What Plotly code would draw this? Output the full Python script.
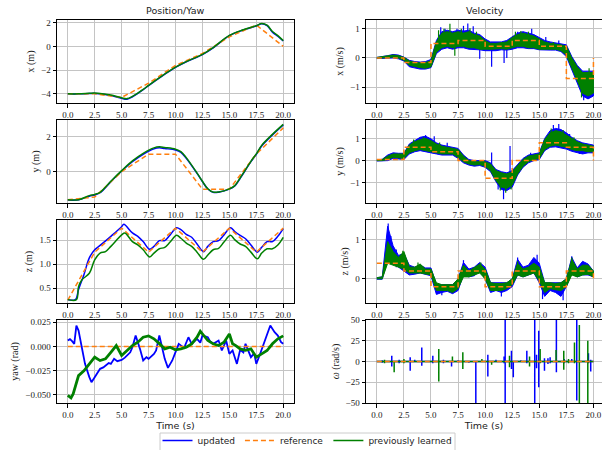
import plotly.graph_objects as go
from plotly.subplots import make_subplots

# ---------------- data ----------------
t_ref = [0, 2.5, 5, 7.5, 10, 12.5, 15, 17.5, 20]
ref_x = [-4.0, -4.0, -4.3, -3.1, -1.6, -0.6, 0.8, 1.8, 0.0]
ref_y = [-1.6, -1.45, 0.0, 1.0, 1.0, -1.0, -1.0, 1.0, 2.5]
ref_z = [0.25, 1.25, 1.75, 1.25, 1.75, 1.25, 1.75, 1.25, 1.75]
ref_vx = [0.0, -0.15, 0.5, 0.6, 0.4, 0.6, 0.4, -0.7, 0.0]
ref_vy = [0.05, 0.6, 0.4, 0.0, -0.8, 0.0, 0.8, 0.6, 0.0]
ref_vz = [0.4, 0.2, -0.2, 0.2, -0.2, 0.2, -0.2, 0.2, 0.0]
ref_yaw = [0.0] * 9
ref_w = [0.0] * 9

# position x
t_px = [0, 1, 2, 2.5, 3, 4, 5, 5.5, 6, 7, 7.5, 8.75, 10, 11, 12.5, 13.5, 15, 16.3, 17.5, 18, 18.5, 19, 19.5, 20]
upd_x = [-4.0, -4.0, -3.97, -3.96, -3.99, -4.15, -4.38, -4.45, -4.25, -3.65, -3.3, -2.5, -1.77, -1.3, -0.69, -0.12, 0.9, 1.38, 1.72, 1.9, 1.75, 1.2, 0.85, 0.45]
prev_x = [-4.0, -4.0, -3.95, -3.93, -3.96, -4.1, -4.33, -4.4, -4.21, -3.63, -3.28, -2.48, -1.75, -1.28, -0.68, -0.1, 0.92, 1.4, 1.74, 1.93, 1.78, 1.25, 0.9, 0.48]

# position y
t_py = [0, 1, 2, 2.5, 3, 4, 5, 6, 7, 8, 8.5, 9, 10, 10.5, 11, 12, 12.5, 13, 13.5, 14, 15, 15.5, 16, 17, 17.5, 18, 19, 20]
upd_y = [-1.62, -1.61, -1.4, -1.33, -1.2, -0.57, 0.04, 0.57, 0.99, 1.3, 1.36, 1.32, 1.24, 1.1, 0.76, -0.1, -0.57, -0.99, -1.18, -1.17, -1.0, -0.82, -0.38, 0.57, 0.99, 1.47, 2.1, 2.67]
prev_y = [-1.6, -1.6, -1.37, -1.3, -1.18, -0.55, 0.06, 0.62, 1.05, 1.36, 1.42, 1.38, 1.28, 1.14, 0.8, -0.08, -0.55, -0.98, -1.17, -1.16, -0.98, -0.8, -0.36, 0.59, 1.02, 1.5, 2.13, 2.7]

# position z
t_pz_upd = [0, 0.7, 1, 1.5, 2, 2.5, 3, 4, 5, 5.2, 6, 6.5, 7, 7.6, 8, 8.5, 9, 9.5, 10.1, 10.5,
            11, 11.5, 12, 12.6, 13, 13.5, 14, 14.5, 15.1, 15.5, 16, 16.5, 17, 17.6, 18, 18.5, 19, 19.5, 20]
upd_z = [0.26, 0.26, 0.47, 0.78, 1.13, 1.3, 1.39, 1.58, 1.78, 1.83, 1.65, 1.58, 1.47, 1.31, 1.37, 1.49, 1.49, 1.61, 1.76, 1.72,
         1.62, 1.56, 1.42, 1.26, 1.37, 1.47, 1.49, 1.61, 1.76, 1.68, 1.6, 1.53, 1.4, 1.25, 1.35, 1.47, 1.47, 1.58, 1.74]
t_pz_prev = [0, 0.8, 1, 1.3, 2, 2.5, 3, 3.5, 4, 5, 5.3, 6, 6.5, 7, 7.6, 8, 8.5, 9, 9.5, 10.1,
             10.5, 11, 11.5, 12, 12.6, 13, 13.5, 14, 14.5, 15.1, 15.5, 16, 16.5, 17, 17.6, 18, 18.5, 19, 19.5, 20]
prev_z = [0.26, 0.26, 0.53, 0.67, 0.81, 1.09, 1.23, 1.26, 1.37, 1.61, 1.65, 1.47, 1.4, 1.3, 1.15, 1.23, 1.32, 1.35, 1.46, 1.6,
          1.54, 1.44, 1.37, 1.25, 1.1, 1.19, 1.3, 1.33, 1.46, 1.6, 1.51, 1.42, 1.37, 1.25, 1.11, 1.23, 1.32, 1.32, 1.4, 1.56]

# yaw
t_yaw_upd = [0, 0.2, 0.4, 0.6, 0.8, 1.0, 1.3, 1.6, 2.0, 2.2, 2.5, 2.8, 3.0, 3.3, 3.5, 3.8, 4.0, 4.3, 4.6, 5.0,
             5.3, 5.5, 5.8, 6.0, 6.3, 6.7, 7.0, 7.3, 7.5, 8.0, 8.2, 8.5, 8.8, 9.0, 9.3, 9.7, 10.0, 10.3, 10.8, 11.2,
             11.5, 11.8, 12.0, 12.3, 12.5, 13.0, 13.2, 13.5, 14.0, 14.3, 14.7, 15.0, 15.3, 15.5, 15.7, 16.0, 16.3, 16.5, 17.0, 17.3,
             17.5, 17.8, 18.2, 18.5, 18.8, 19.2, 19.5, 19.8, 20.0]
upd_yaw = [0.0062, 0.0076, 0.0055, 0.0028, 0.0217, 0.0165, -0.0007, -0.0179, -0.0316, -0.0368, -0.0316, -0.0262, -0.023, -0.0215, -0.0196, -0.017, -0.0179, -0.0127, -0.0151, -0.0138,
           -0.0115, -0.0093, -0.006, -0.0007, 0.0114, -0.0024, -0.0144, -0.011, -0.0127, -0.0076, -0.004, 0.0114, -0.004, -0.0127, -0.022, -0.0144, -0.0058, 0.0028, -0.0014, 0.0096,
           0.0028, 0.006, 0.0079, 0.004, 0.0114, 0.0096, 0.0055, 0.0028, 0.0062, -0.0041, 0.0062, -0.0076, -0.004, -0.011, -0.0179, -0.0034, -0.006, 0.0028, -0.011, -0.007,
           -0.0179, -0.0093, 0.0028, 0.0131, 0.0217, 0.0148, 0.0114, 0.0045, 0.0028]
t_yaw_prev = [0, 0.3, 0.5, 0.8, 1.0, 1.5, 2, 2.5, 3, 3.5, 4, 4.5, 5, 5.5, 6, 6.5, 7, 7.5, 8, 8.5,
              9, 9.5, 10, 10.5, 11, 11.5, 12, 12.3, 12.8, 13, 13.5, 14, 14.5, 15, 15.3, 15.6, 16, 16.5, 17, 17.5,
              18, 18.5, 19, 19.5, 20]
prev_yaw = [-0.0505, -0.053, -0.049, -0.0385, -0.03, -0.025, -0.018, -0.011, -0.0145, -0.0127, -0.006, 0.001, -0.0093, -0.004, 0.001, 0.0045, 0.0096, 0.011, 0.008, 0.003,
            -0.0024, -0.0007, -0.0034, -0.0024, -0.0007, 0.0028, 0.0096, 0.0158, 0.0096, 0.0062, 0.0028, 0.001, 0.0045, 0.013, 0.0028, 0.001, -0.0024, -0.004, -0.0024, -0.011,
            -0.0076, -0.0041, 0.0028, 0.008, 0.011]

# velocity envelopes (measured band, lower / upper), sampled every 0.5 s
t_vel = [0, 0.5, 1, 1.5, 2, 2.5, 3, 3.5, 4, 4.5, 5, 5.5, 6, 6.5, 7, 7.5, 8, 8.5, 9, 9.5,
         10, 10.5, 11, 11.5, 12, 12.5, 13, 13.5, 14, 14.5, 15, 15.5, 16, 16.5, 17, 17.5, 18, 18.5, 19, 19.5, 20]

upd_vx_lo = [-0.02, -0.01, 0.0, 0.0, -0.03, -0.1, -0.3, -0.35, -0.38, -0.38, -0.33, 0.15, 0.3, 0.35, 0.3, 0.35, 0.35, 0.3, 0.3, 0.28,
             0.25, 0.25, 0.25, 0.28, 0.27, 0.3, 0.35, 0.35, 0.32, 0.32, 0.28, 0.28, 0.27, 0.27, 0.22, 0.05, -0.4, -0.85, -1.3, -1.4, -1.3]
upd_vx_hi = [0.02, 0.04, 0.08, 0.12, 0.1, 0.03, -0.08, -0.12, -0.14, -0.12, -0.05, 0.6, 0.9, 0.95, 0.9, 0.95, 0.92, 0.95, 0.85, 0.8,
             0.65, 0.55, 0.55, 0.55, 0.6, 0.72, 0.85, 0.9, 0.85, 0.8, 0.7, 0.6, 0.55, 0.52, 0.5, 0.45, 0.05, -0.25, -0.45, -0.45, -0.45]
prev_vx_lo = [-0.01, 0.0, 0.02, 0.03, 0.0, -0.08, -0.25, -0.3, -0.33, -0.35, -0.3, 0.2, 0.35, 0.4, 0.35, 0.4, 0.4, 0.35, 0.35, 0.3,
              0.3, 0.3, 0.3, 0.32, 0.3, 0.35, 0.4, 0.4, 0.35, 0.35, 0.3, 0.3, 0.3, 0.3, 0.25, 0.1, -0.35, -0.75, -1.2, -1.3, -1.2]
prev_vx_hi = [0.02, 0.04, 0.07, 0.1, 0.08, 0.02, -0.1, -0.15, -0.17, -0.15, -0.1, 0.55, 0.85, 0.9, 0.85, 0.9, 0.85, 0.9, 0.8, 0.75,
              0.6, 0.5, 0.5, 0.52, 0.55, 0.7, 0.8, 0.85, 0.8, 0.75, 0.65, 0.55, 0.5, 0.48, 0.45, 0.4, 0.0, -0.3, -0.5, -0.5, -0.5]

upd_vy_lo = [-0.02, -0.02, 0.0, 0.1, 0.08, 0.05, 0.3, 0.4, 0.45, 0.4, 0.35, 0.3, 0.25, 0.25, 0.25, 0.1, -0.1, -0.2, -0.25, -0.22,
             -0.3, -0.5, -0.95, -1.3, -1.35, -1.2, -0.65, -0.3, -0.1, 0.0, 0.05, 0.45, 0.6, 0.62, 0.58, 0.52, 0.42, 0.35, 0.3, 0.35, 0.35]
upd_vy_hi = [0.03, 0.06, 0.25, 0.35, 0.33, 0.33, 0.75, 0.92, 1.05, 1.1, 0.98, 0.8, 0.7, 0.65, 0.6, 0.55, 0.25, 0.05, 0.0, 0.0,
             0.0, -0.1, -0.4, -0.5, -0.55, -0.45, -0.15, 0.1, 0.25, 0.3, 0.35, 1.0, 1.35, 1.45, 1.4, 1.25, 1.05, 0.9, 0.8, 0.75, 0.7]
prev_vy_lo = [0.0, 0.0, 0.05, 0.15, 0.12, 0.1, 0.35, 0.45, 0.5, 0.45, 0.4, 0.35, 0.3, 0.3, 0.3, 0.15, -0.05, -0.15, -0.2, -0.18,
              -0.25, -0.45, -0.9, -1.2, -1.25, -1.1, -0.6, -0.25, -0.05, 0.05, 0.1, 0.5, 0.65, 0.7, 0.65, 0.6, 0.5, 0.45, 0.45, 0.4, 0.4]
prev_vy_hi = [0.03, 0.05, 0.2, 0.3, 0.3, 0.3, 0.7, 0.85, 0.95, 1.0, 0.9, 0.75, 0.65, 0.6, 0.55, 0.5, 0.2, 0.0, -0.05, -0.05,
              -0.05, -0.15, -0.45, -0.55, -0.6, -0.5, -0.2, 0.05, 0.2, 0.25, 0.3, 0.95, 1.25, 1.35, 1.3, 1.15, 1.0, 0.85, 0.75, 0.7, 0.65]

upd_vz_lo = [-0.01, -0.01, 0.5, 0.4, 0.3, 0.2, 0.1, 0.12, 0.15, 0.12, 0.08, -0.4, -0.35, -0.32, -0.38, -0.3, 0.1, 0.05, 0.08, 0.2,
             0.0, -0.35, -0.3, -0.35, -0.3, -0.2, 0.1, 0.05, 0.1, 0.15, -0.1, -0.45, -0.3, -0.35, -0.45, -0.2, 0.15, 0.05, 0.1, 0.1, 0.05]
upd_vz_hi = [0.03, 0.05, 1.35, 0.85, 0.6, 0.65, 0.35, 0.3, 0.35, 0.28, 0.28, -0.15, -0.15, -0.15, -0.15, 0.0, 0.42, 0.25, 0.3, 0.42,
             0.3, -0.1, -0.1, -0.1, -0.1, 0.0, 0.5, 0.3, 0.35, 0.55, 0.4, -0.1, -0.1, -0.1, -0.1, 0.0, 0.55, 0.28, 0.45, 0.38, 0.2]
prev_vz_lo = [0.0, 0.0, 0.4, 0.35, 0.3, 0.25, 0.15, 0.15, 0.15, 0.12, 0.1, -0.3, -0.3, -0.3, -0.35, -0.25, 0.05, 0.05, 0.1, 0.15,
              0.0, -0.3, -0.3, -0.3, -0.25, -0.15, 0.1, 0.05, 0.1, 0.15, -0.05, -0.35, -0.25, -0.28, -0.3, -0.2, 0.1, 0.05, 0.1, 0.12, 0.05]
prev_vz_hi = [0.03, 0.05, 0.95, 0.7, 0.55, 0.7, 0.3, 0.3, 0.38, 0.25, 0.25, -0.1, -0.15, -0.15, -0.15, 0.0, 0.35, 0.2, 0.3, 0.38,
              0.25, -0.1, -0.12, -0.12, -0.1, 0.0, 0.4, 0.25, 0.3, 0.4, 0.3, -0.1, -0.1, -0.12, -0.1, 0.0, 0.5, 0.25, 0.35, 0.35, 0.2]

# isolated velocity excursions: time, low, high
upd_vx_spk_t = [5.9, 6.3, 7.4, 8.0, 8.4, 8.9, 9.5, 10.6, 11.75, 12.0, 13.0, 14.3, 15.6, 16.8, 19.1]
upd_vx_spk_lo = [0.5, 0.5, 0.5, 0.5, 0.5, 0.5, -0.03, -0.3, -0.17, 0.0, 0.5, 0.5, 0.3, 0.3, -1.45]
upd_vx_spk_hi = [1.05, 1.0, 1.0, 1.1, 1.18, 1.09, 0.4, 0.35, 0.3, 0.35, 0.9, 1.0, 0.72, 0.6, -1.0]
prev_vx_spk_t = [5.7, 6.2, 6.75, 7.2, 7.8, 8.6, 9.2, 12.8, 13.3, 14.0, 16.3, 18.9, 19.6]
prev_vx_spk_lo = [0.4, 0.5, 0.6, 0.08, 0.5, 0.5, 0.4, 0.5, 0.5, 0.5, 0.35, -1.35, -1.0]
prev_vx_spk_hi = [0.95, 1.0, 1.17, 0.45, 1.0, 1.02, 0.9, 0.9, 0.92, 0.9, 0.55, -0.8, -0.35]

upd_vy_spk_t = [4.5, 5.3, 6.5, 10.6, 11.2, 11.7, 12.3, 14.2, 16.3, 16.8, 17.8, 18.7]
upd_vy_spk_lo = [0.6, 0.5, 0.3, -0.3, -1.3, -1.74, -0.6, 0.0, 0.8, 0.8, 0.6, 0.3]
upd_vy_spk_hi = [1.15, 1.1, 0.8, 0.36, -0.7, -1.0, 0.66, 0.35, 1.6, 1.65, 1.2, 0.6]
prev_vy_spk_t = [3.4, 4.3, 5.8, 11.4, 11.9, 12.4, 16.1, 17.2, 18.2]
prev_vy_spk_lo = [0.4, 0.6, 0.3, -1.35, -1.45, -1.3, 0.8, 0.7, 0.5]
prev_vy_spk_hi = [0.95, 1.05, 0.82, -0.7, -0.8, -0.6, 1.45, 1.38, 1.05]

upd_vz_spk_t = [1.05, 1.3, 1.8, 6.0, 8.0, 11.5, 13.0, 14.8, 15.3, 17.2, 18.0]
upd_vz_spk_lo = [0.5, 0.5, 0.3, -0.42, 0.1, -0.45, 0.1, 0.2, -0.52, -0.55, 0.15]
upd_vz_spk_hi = [1.42, 1.1, 0.75, -0.2, 0.48, -0.1, 0.55, 0.62, -0.1, -0.1, 0.58]
prev_vz_spk_t = [1.0, 2.4, 3.8, 9.6, 13.0, 18.0]
prev_vz_spk_lo = [0.4, 0.3, 0.15, 0.15, 0.1, 0.1]
prev_vz_spk_hi = [0.96, 0.72, 0.42, 0.42, 0.45, 0.55]

# angular rate: spikes (time, low, high) on a zero baseline
upd_w_t = [0.5, 1.38, 2.06, 3.08, 3.5, 4.15, 5.17, 6.15, 6.9, 7.5, 8.5, 9.14, 10.25, 11.0, 11.75, 11.85, 12.43, 12.6, 13.3, 13.85,
           14.58, 14.75, 14.95, 15.48, 15.8, 16.0, 16.58, 17.3, 18.0, 18.46, 19.54, 19.75]
upd_w_lo = [-1.5, -6, -2, -11, -1, -5, -2, -2, -6, -1, -1.5, -50, -18, -1, -2, -50, -9, -19, -1, -2,
            -50, -8, -31, -11, -3, -2, -13, -2, -1, -47, -2, -12]
upd_w_hi = [1.5, 7, 2, 5, 2, 17, 7, 2, 1, 1.5, 1, 1, 8, 2, 6, 50, 13, 1, 1.5, 13,
            50, 8, 37, 4, 4, 5, 50, 3, 3, 50, 10, 2]
prev_w_t = [0.71, 1.6, 2.5, 5.72, 6.98, 7.94, 9.7, 10.6, 12.25, 14.1, 15.08, 16.55, 17.26, 17.7, 18.25, 18.7, 19.48]
prev_w_lo = [-2, -13, -2, -24, -1, -9, -1, -4, -7, -6, -2, -1, -10, -2, -2, -50, -50]
prev_w_hi = [2, 1, 3, 15, 6, 11, 3, 1, 7, 6, 15, 14, 13, 3, 23, 44, 25]

time_ticks = [0, 2.5, 5, 7.5, 10, 12.5, 15, 17.5, 20]

# ---------------- styling ----------------
BLUE = "#0000ff"
ORANGE = "#ff7f0e"
GREEN = "#008000"
SERIF = "Liberation Serif"
SANS = "DejaVu Sans"

fig = make_subplots(rows=4, cols=2)


def add_line(r, c, x, y, color, name, legend=False, dash=None, width=1.5, shape="linear"):
    fig.add_trace(go.Scatter(x=x, y=y, mode="lines", name=name, showlegend=legend,
                             legendgroup=name,
                             line=dict(color=color, width=width, dash=dash, shape=shape)),
                  row=r, col=c)


def add_band(r, c, t, lo, hi, color, name):
    fig.add_trace(go.Scatter(x=list(t) + list(t)[::-1], y=list(hi) + list(lo)[::-1],
                             mode="lines", fill="toself", fillcolor=color, name=name,
                             showlegend=False, legendgroup=name,
                             line=dict(color=color, width=1)),
                  row=r, col=c)


def add_spikes(r, c, ts, lo, hi, color, name, base=None, width=1.2):
    xs, ys = [], []
    if base is not None:
        xs.append(0)
        ys.append(base)
    for t, a, b in zip(ts, lo, hi):
        if base is not None:
            xs += [t, t, t, t]
            ys += [base, b, a, base]
        else:
            xs += [t, t, None]
            ys += [a, b, None]
    if base is not None:
        xs.append(20)
        ys.append(base)
    fig.add_trace(go.Scatter(x=xs, y=ys, mode="lines", showlegend=False, name=name,
                             legendgroup=name, line=dict(color=color, width=width)),
                  row=r, col=c)


REF_DASH = "5px,3px"

# positions
add_line(1, 1, t_px, upd_x, BLUE, "updated", legend=True, shape="spline")
add_line(1, 1, t_ref, ref_x, ORANGE, "reference", legend=True, dash=REF_DASH)
add_line(1, 1, t_px, prev_x, GREEN, "previously learned", legend=True, shape="spline")

add_line(2, 1, t_py, upd_y, BLUE, "updated", shape="spline")
add_line(2, 1, t_ref, ref_y, ORANGE, "reference", dash=REF_DASH)
add_line(2, 1, t_py, prev_y, GREEN, "previously learned", shape="spline")

add_line(3, 1, t_pz_upd, upd_z, BLUE, "updated", shape="spline")
add_line(3, 1, t_ref, ref_z, ORANGE, "reference", dash=REF_DASH)
add_line(3, 1, t_pz_prev, prev_z, GREEN, "previously learned", shape="spline")

add_line(4, 1, t_yaw_upd, upd_yaw, BLUE, "updated", width=1.8)
add_line(4, 1, t_ref, ref_yaw, ORANGE, "reference", dash=REF_DASH)
add_line(4, 1, t_yaw_prev, prev_yaw, GREEN, "previously learned", width=2.8)

# velocities
vel_sets = [
    (1, upd_vx_lo, upd_vx_hi, prev_vx_lo, prev_vx_hi, ref_vx,
     (upd_vx_spk_t, upd_vx_spk_lo, upd_vx_spk_hi), (prev_vx_spk_t, prev_vx_spk_lo, prev_vx_spk_hi)),
    (2, upd_vy_lo, upd_vy_hi, prev_vy_lo, prev_vy_hi, ref_vy,
     (upd_vy_spk_t, upd_vy_spk_lo, upd_vy_spk_hi), (prev_vy_spk_t, prev_vy_spk_lo, prev_vy_spk_hi)),
    (3, upd_vz_lo, upd_vz_hi, prev_vz_lo, prev_vz_hi, ref_vz,
     (upd_vz_spk_t, upd_vz_spk_lo, upd_vz_spk_hi), (prev_vz_spk_t, prev_vz_spk_lo, prev_vz_spk_hi)),
]
for r, ulo, uhi, plo, phi, ref, uspk, pspk in vel_sets:
    add_band(r, 2, t_vel, ulo, uhi, BLUE, "updated")
    add_spikes(r, 2, *uspk, BLUE, "updated")
    add_band(r, 2, t_vel, plo, phi, GREEN, "previously learned")
    add_spikes(r, 2, *pspk, GREEN, "previously learned")
    add_line(r, 2, t_ref, ref, ORANGE, "reference", dash=REF_DASH, shape="hv")

add_spikes(4, 2, upd_w_t, upd_w_lo, upd_w_hi, BLUE, "updated", base=0.0, width=1.5)
add_spikes(4, 2, prev_w_t, prev_w_lo, prev_w_hi, GREEN, "previously learned", base=0.0, width=1.5)
add_line(4, 2, t_ref, ref_w, ORANGE, "reference", dash=REF_DASH)

# ---------------- axes ----------------
W, H = 602, 450
left_dom = [57 / W, 294 / W]
right_dom = [366 / W, 1.0]
row_px = [(20, 103), (120, 203), (220, 303), (320, 403)]
row_dom = [[1 - b / H, 1 - a / H] for a, b in row_px]

yranges = {
    (1, 1): [-4.77, 2.22], (1, 2): [-1.54, 1.30],
    (2, 1): [-1.79, 2.95], (2, 2): [-1.91, 1.83],
    (3, 1): [0.19, 1.92], (3, 2): [-0.62, 1.51],
    (4, 1): [-0.0583, 0.0274], (4, 2): [-50, 50],
}
yticks = {
    (1, 1): [-4, -2, 0, 2], (1, 2): [-1, 0, 1],
    (2, 1): [0, 2], (2, 2): [-1, 0, 1],
    (3, 1): [0.5, 1.0, 1.5], (3, 2): [0, 1],
    (4, 1): [-0.05, -0.025, 0.0, 0.025], (4, 2): [-50, -25, 0, 25, 50],
}
yfmt = {(3, 1): ".1f", (4, 1): ".3f"}
ytitles = {
    (1, 1): "x (m)", (1, 2): "x (m/s)",
    (2, 1): "y (m)", (2, 2): "y (m/s)",
    (3, 1): "z (m)", (3, 2): "z (m/s)",
    (4, 1): "yaw (rad)", (4, 2): "<i>ω</i> (rad/s)",
}

tick_font = dict(family=SERIF, size=9, color="#222")
for r in range(1, 5):
    for c in range(1, 3):
        idx = (r - 1) * 2 + c
        xa = "xaxis" if idx == 1 else f"xaxis{idx}"
        ya = "yaxis" if idx == 1 else f"yaxis{idx}"
        xr = [-1, 21] if c == 1 else [-1, -1 + (W - 366) / 10.83]
        fig.layout[xa].update(
            domain=left_dom if c == 1 else right_dom, range=xr,
            tickvals=time_ticks, tickformat=".1f", tickfont=tick_font,
            showgrid=True, gridcolor="#c4c4c4", gridwidth=1, zeroline=False,
            showline=True, linecolor="black", linewidth=1, mirror=True,
            ticks="outside", ticklen=3.5, tickcolor="black", tickwidth=1,
        )
        if r == 4:
            fig.layout[xa].update(title=dict(text="Time (s)", font=dict(family=SANS, size=9.5, color="#222"),
                                             standoff=2))
        fig.layout[ya].update(
            domain=row_dom[r - 1], range=yranges[(r, c)], tickvals=yticks[(r, c)],
            tickformat=yfmt.get((r, c), ""), tickfont=tick_font,
            showgrid=True, gridcolor="#c4c4c4", gridwidth=1, zeroline=False,
            showline=True, linecolor="black", linewidth=1, mirror=True,
            ticks="outside", ticklen=3.5, tickcolor="black", tickwidth=1,
            title=dict(text=ytitles[(r, c)], font=dict(family=SERIF, size=10, color="#222"), standoff=4),
        )

# legend frame drawn as a shape so it can sit just below the axis titles
frame_x0, frame_x1, frame_top = 160, 455, 433
fig.add_shape(type="rect", xref="paper", yref="paper",
              x0=frame_x0 / W, x1=frame_x1 / W, y0=-0.02, y1=1 - frame_top / H,
              line=dict(color="#cccccc", width=1), fillcolor="rgba(0,0,0,0)", layer="above")

fig.update_layout(
    width=W, height=H,
    margin=dict(l=0, r=0, t=0, b=0, autoexpand=False),
    plot_bgcolor="white", paper_bgcolor="white",
    showlegend=True,
    legend=dict(orientation="h", x=(frame_x0 + frame_x1) / 2 / W, xanchor="center",
                y=1 - 426 / H, yanchor="top",
                font=dict(family=SANS, size=9, color="#222"),
                borderwidth=0, bgcolor="rgba(0,0,0,0)",
                itemwidth=30, tracegroupgap=0),
    annotations=[
        dict(text="Position/Yaw", x=175.5 / W, y=1 - 10 / H, xref="paper", yref="paper",
             xanchor="center", yanchor="middle",
             showarrow=False, font=dict(family=SANS, size=9.5, color="#222")),
        dict(text="Velocity", x=485 / W, y=1 - 10 / H, xref="paper", yref="paper",
             xanchor="center", yanchor="middle",
             showarrow=False, font=dict(family=SANS, size=9.5, color="#222")),
    ],
)

fig.write_html("out.html")
